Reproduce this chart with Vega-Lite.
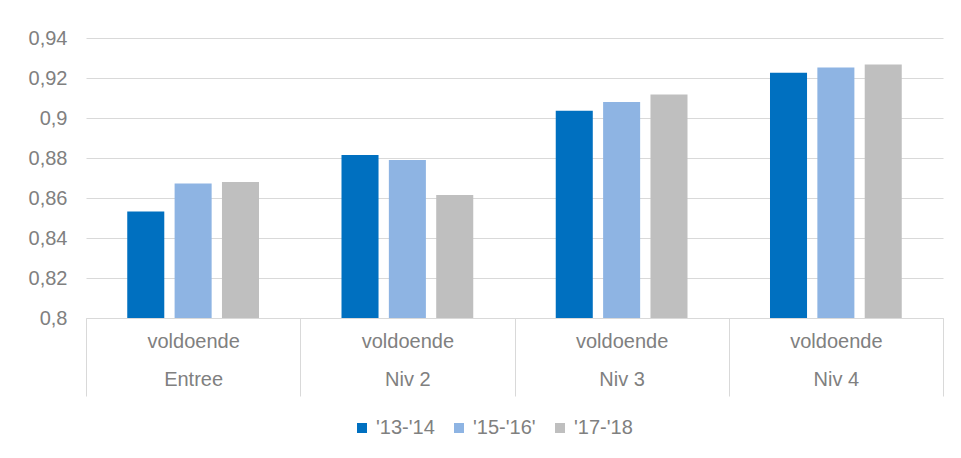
{
  "$schema": "https://vega.github.io/schema/vega-lite/v6.json",
  "width": 857,
  "height": 280,
  "autosize": {"type": "none"},
  "padding": {"left": 86, "top": 38, "right": 18, "bottom": 140},
  "background": "white",
  "config": {
    "view": {"stroke": null},
    "font": "Liberation Sans",
    "axis": {"labelColor": "#808080", "labelFont": "Liberation Sans", "labelFontSize": 20, "titleColor": "#808080"},
    "legend": {"labelColor": "#808080", "labelFont": "Liberation Sans", "labelFontSize": 20}
  },
  "data": {
    "values": [
      {"niveau": "Entree", "jaar": "'13-'14", "waarde": 0.8533},
      {"niveau": "Entree", "jaar": "'15-'16'", "waarde": 0.8673},
      {"niveau": "Entree", "jaar": "'17-'18", "waarde": 0.868},
      {"niveau": "Niv 2", "jaar": "'13-'14", "waarde": 0.8815},
      {"niveau": "Niv 2", "jaar": "'15-'16'", "waarde": 0.879},
      {"niveau": "Niv 2", "jaar": "'17-'18", "waarde": 0.8615},
      {"niveau": "Niv 3", "jaar": "'13-'14", "waarde": 0.9036},
      {"niveau": "Niv 3", "jaar": "'15-'16'", "waarde": 0.908},
      {"niveau": "Niv 3", "jaar": "'17-'18", "waarde": 0.9118},
      {"niveau": "Niv 4", "jaar": "'13-'14", "waarde": 0.9226},
      {"niveau": "Niv 4", "jaar": "'15-'16'", "waarde": 0.9253},
      {"niveau": "Niv 4", "jaar": "'17-'18", "waarde": 0.9267}
    ]
  },
  "mark": {"type": "bar"},
  "encoding": {
    "x": {
      "field": "niveau",
      "type": "nominal",
      "sort": ["Entree", "Niv 2", "Niv 3", "Niv 4"],
      "scale": {"paddingInner": 0, "paddingOuter": 0},
      "axis": {
        "title": null,
        "labelAngle": 0,
        "labelExpr": "datum.label ? ['voldoende', datum.label] : ''",
        "labelLineHeight": 38,
        "labelBaseline": "top",
        "labelPadding": -65,
        "tickBand": "extent",
        "tickSize": 78,
        "tickColor": "#d9d9d9",
        "tickWidth": 1,
        "domainColor": "#d9d9d9",
        "domainWidth": 1
      }
    },
    "xOffset": {
      "field": "jaar",
      "type": "nominal",
      "sort": ["'13-'14", "'15-'16'", "'17-'18"],
      "scale": {"paddingInner": 0.218, "paddingOuter": 0.871}
    },
    "y": {
      "field": "waarde",
      "type": "quantitative",
      "scale": {"domain": [0.8, 0.94], "zero": false, "nice": false},
      "axis": {
        "title": null,
        "values": [0.8, 0.82, 0.84, 0.86, 0.88, 0.9, 0.92, 0.94],
        "labelExpr": "replace(format(datum.value, '.2~f'), '.', ',')",
        "domain": false,
        "ticks": false,
        "labelPadding": 19,
        "gridColor": "#d9d9d9",
        "gridWidth": 1
      }
    },
    "y2": {"datum": 0.8},
    "color": {
      "field": "jaar",
      "type": "nominal",
      "sort": ["'13-'14", "'15-'16'", "'17-'18"],
      "scale": {"domain": ["'13-'14", "'15-'16'", "'17-'18"], "range": ["#0070C0", "#8EB4E3", "#BFBFBF"]},
      "legend": {
        "title": null,
        "orient": "none",
        "legendX": 266,
        "legendY": 380,
        "direction": "horizontal",
        "symbolType": "square",
        "symbolSize": 100,
        "symbolStrokeWidth": 0,
        "labelOffset": 4,
        "columnPadding": 14
      }
    }
  }
}
